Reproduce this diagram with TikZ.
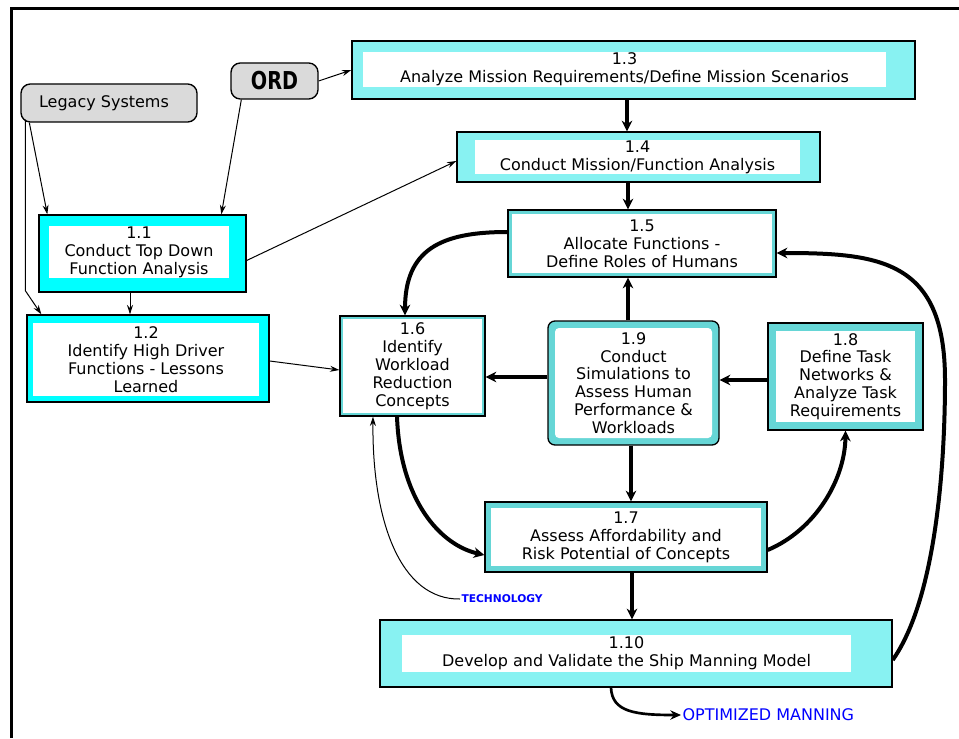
\documentclass[tikz,border=0pt]{standalone}
\usepackage{fontspec}
\setmainfont{DejaVu Sans}
\newfontfamily\ordfont[FakeStretch=0.78]{DejaVu Sans}
\usetikzlibrary{arrows.meta,calc}
\definecolor{smmCyan}{HTML}{00FFFF}
\definecolor{smmPale}{HTML}{88F2F2}
\definecolor{smmTeal}{HTML}{66D6D6}
\definecolor{smmGray}{HTML}{DADADA}
\definecolor{smmBlue}{HTML}{0000FF}
\newdimen\px \px=0.75pt
\tikzset{
  smm frame/.style={draw=black, line width=1pt, inner sep=0pt},
  smm text/.style={fill=white, inner sep=0pt, align=center, font=\fontsize{12}{13.4}\selectfont},
  smm source/.style={draw=black, line width=1pt, fill=smmGray, rounded corners=7pt, inner sep=0pt, font=\fontsize{12}{13.4}\selectfont},
  smm thin/.style={draw=black, line width=0.75pt, -{Stealth[length=7pt,width=4.5pt]}},
  smm thick/.style={draw=black, line width=3pt, -{Stealth[length=8pt,width=8pt]}},
  smm note/.style={text=smmBlue, inner sep=1pt, anchor=west},
}

\begin{document}
\begin{tikzpicture}[x=0.75pt,y=-0.75pt]
  \useasboundingbox (0,0) rectangle (959,738);
  \draw[line width=2.25pt] (11.5,738) -- (11.5,8.5) -- (959,8.5);

  % inputs
  \node[smm source, minimum width=176\px, minimum height=38\px] (leg) at (109,103) {Legacy Systems\hspace*{10\px}};
  \node[smm source, font=\ordfont\bfseries\fontsize{18.5}{20}\selectfont, minimum width=87\px, minimum height=36\px] (ord) at (274.5,81) {ORD};

  % solid cyan blocks
  \node[smm frame, fill=smmCyan, minimum width=207\px, minimum height=77\px] (n11) at (142.5,253.5) {};
  \node[smm text, minimum width=180\px, minimum height=52\px] (n11t) at (139,252) {1.1\\Conduct Top Down\\Function Analysis};
  \node[smm frame, fill=smmCyan, minimum width=242\px, minimum height=87\px] (n12) at (148,358.5) {};
  \node[smm text, minimum width=226\px, minimum height=73\px] (n12t) at (146,359.5) {1.2\\Identify High Driver\\Functions - Lessons\\Learned};

  % pale blocks with wide band
  \node[smm frame, fill=smmPale, minimum width=563\px, minimum height=58\px] (n13) at (633.5,70) {};
  \node[smm text, minimum width=523\px, minimum height=35\px] (n13t) at (624.5,69.5) {1.3\\Analyze Mission Requirements/Define Mission Scenarios};
  \node[smm frame, fill=smmPale, minimum width=363\px, minimum height=50\px] (n14) at (638.5,157) {};
  \node[smm text, minimum width=325\px, minimum height=34\px] (n14t) at (637.5,157) {1.4\\Conduct Mission/Function Analysis};
  \node[smm frame, fill=smmPale, minimum width=512\px, minimum height=67\px] (n110) at (636,653.5) {};
  \node[smm text, minimum width=449\px, minimum height=37\px] (n110t) at (626.5,653.5) {1.10\\Develop and Validate the Ship Manning Model};

  % teal blocks with narrow band
  \node[smm frame, fill=smmTeal, minimum width=268\px, minimum height=67\px] (n15) at (642,243.5) {};
  \node[smm text, minimum width=260\px, minimum height=59\px] (n15t) at (642,243.5) {1.5\\Allocate Functions -\\Define Roles of Humans};
  \node[smm frame, fill=smmTeal, minimum width=145\px, minimum height=100\px] (n16) at (412.5,366) {};
  \node[smm text, minimum width=139\px, minimum height=94\px] (n16t) at (412.5,366) {1.6\\Identify\\Workload\\Reduction\\Concepts};
  \node[smm frame, fill=smmTeal, rounded corners=7\px, minimum width=171\px, minimum height=124\px] (n19) at (633.5,383) {};
  \node[smm text, rounded corners=4\px, minimum width=157\px, minimum height=110\px] (n19t) at (633.5,383) {1.9\\Conduct\\Simulations to\\Assess Human\\Performance \&\\Workloads};
  \node[smm frame, fill=smmTeal, minimum width=155\px, minimum height=107\px] (n18) at (845.5,376.5) {};
  \node[smm text, minimum width=139\px, minimum height=91\px] (n18t) at (845.5,376.5) {1.8\\Define Task\\Networks \&\\Analyze Task\\Requirements};
  \node[smm frame, fill=smmTeal, minimum width=282\px, minimum height=70\px] (n17) at (626,537) {};
  \node[smm text, minimum width=270\px, minimum height=58\px] (n17t) at (626,537) {1.7\\Assess Affordability and\\Risk Potential of Concepts};

  % outputs
  \node[smm note, font=\bfseries\fontsize{8}{9}\selectfont] (tech) at (460,599) {TECHNOLOGY};
  \node[smm note, font=\fontsize{12}{13}\selectfont] (optm) at (681,715) {OPTIMIZED MANNING};

  % thin links
  \draw[smm thin] (ord.east) -- (n13.west);
  \draw[smm thin] ($(ord.south west)+(11,0)$) -- ($(n11.north west)+(183,0)$);
  \draw[smm thin] ($(leg.south west)+(9,0)$) -- ($(n11.north west)+(9,0)$);
  \draw[smm thin] ($(leg.south west)+(5,-3)$) -- ++(0,171) -- ($(n12.north west)+(15,0)$);
  \draw[smm thin] ($(n11.south)+(-12.5,0)$) -- ($(n12.north)+(-18,0)$);
  \draw[smm thin] ($(n11.east)+(0,7)$) -- ($(n14.west)+(0,4)$);
  \draw[smm thin] ($(n12.east)+(0,2.5)$) -- ($(n16.west)+(0,4)$);
  \draw[smm thin] (tech.west) .. controls (400,600) and (372,520) .. ($(n16.south)+(-39.5,0)$);

  % thick links
  \draw[smm thick] ($(n13.south)+(-6.5,0)$) -- ($(n14.north)+(-11.5,0)$);
  \draw[smm thick] ($(n14.south)+(-10.5,0)$) -- ($(n15.north)+(-14,0)$);
  \draw[smm thick] ($(n19.north)+(-5.5,0)$) -- ($(n15.south)+(-14,0)$);
  \draw[smm thick] ($(n19.west)+(0,-6)$) -- ($(n16.east)+(0,11)$);
  \draw[smm thick] ($(n18.west)+(0,3.5)$) -- ($(n19.east)+(0,-3)$);
  \draw[smm thick] ($(n19.south)+(-2.5,0)$) -- ($(n17.north)+(5,0)$);
  \draw[smm thick] ($(n17.south)+(6,0)$) -- ($(n110.north)+(-4,0)$);
  \draw[smm thick] ($(n15.west)+(0,-11.5)$) .. controls (440,232) and (405,250) .. ($(n16.north)+(-7.5,0)$);
  \draw[smm thick] ($(n16.south)+(-15.5,0)$) .. controls (400,500) and (440,545) .. ($(n17.west)+(0,18)$);
  \draw[smm thick] ($(n17.east)+(0,13)$) .. controls (815,530) and (845,480) .. (n18.south);
  \draw[smm thick] ($(n110.east)+(0,6.5)$) .. controls (935,600) and (945,470) .. (945,380)
    .. controls (945,260) and (880,253) .. ($(n15.east)+(0,9.5)$);
  \draw[draw=black, line width=2pt, -{Stealth[length=8pt,width=7pt]}] ($(n110.south)+(-25,0)$) .. controls (612,712) and (635,715) .. (optm.west);
\end{tikzpicture}
\end{document}
